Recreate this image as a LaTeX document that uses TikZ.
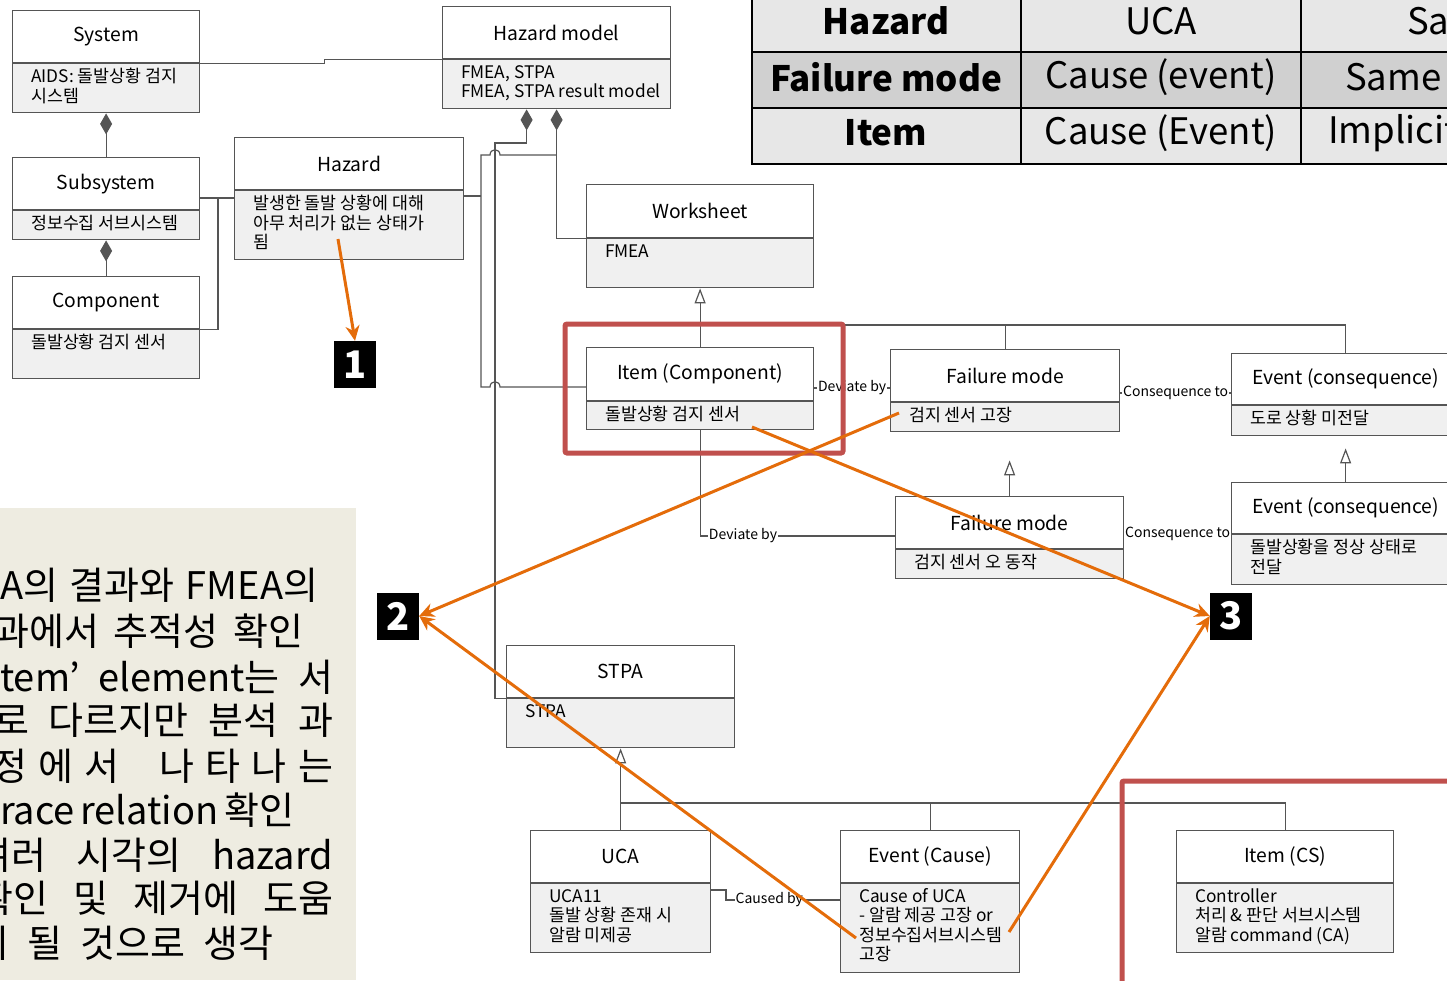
\documentclass[tikz,border=0pt]{standalone}
\usepackage{fontspec}
\setmainfont{Noto Sans CJK KR}
\usepackage{tikz}
\usetikzlibrary{arrows.meta, positioning, calc}

\definecolor{boxline}{HTML}{555555}
\definecolor{bodygray}{HTML}{F0F0F0}
\definecolor{panelbg}{HTML}{EEECE1}
\definecolor{hlorange}{HTML}{E46C0A}
\definecolor{markred}{HTML}{C0504D}
\definecolor{rowlight}{HTML}{E7E7E7}
\definecolor{rowdark}{HTML}{D0D0D0}

% class box: name, left, top, right, divider, bottom, title, body
\newcommand\umlclass[8]{%
  \node[umlhead, anchor=north west, minimum width=#4-#2, minimum height=#5-#3] (#1) at (#2,#3) {#7};
  \node[umlbody, anchor=north west, minimum width=#4-#2, minimum height=#6-#5] (#1b) at (#1.south west) {};
  \node[umltext, anchor=north west] (#1t) at ([shift={(19,5)}]#1b.north west) {\vphantom{돌}#8};
}

\begin{document}
\begin{tikzpicture}[x=1pt, y=-1pt,
  umlhead/.style={draw=boxline, fill=white, line width=1.2pt, inner sep=0pt, font=\fontsize{19.3}{23}\selectfont},
  umlbody/.style={draw=boxline, fill=bodygray, line width=1.2pt, inner sep=0pt},
  umltext/.style={align=left, inner sep=0pt, font=\fontsize{17.3}{19.5}\selectfont},
  conn/.style={draw=boxline, line width=1.2pt},
  diam/.tip={Diamond[length=21pt,width=12pt]},
  gen/.tip={Triangle[length=15pt,width=11pt,fill=white]},
  lbl/.style={fill=white, inner sep=1pt, font=\fontsize{14}{16}\selectfont},
  hl/.style={draw=hlorange, line width=3pt, -{Stealth[length=15pt,width=14pt]}},
  redbox/.style={draw=markred, line width=5pt, rounded corners=2pt},
  badge/.style={fill=black, text=white, minimum width=42, minimum height=47, inner sep=0pt, font=\fontsize{38}{38}\selectfont\bfseries},
  paneltext/.style={inner sep=0pt, font=\fontsize{38}{42}\selectfont},
  tbltext/.style={inner sep=0pt, font=\fontsize{36.5}{42}\selectfont},
  tblhead/.style={inner sep=0pt, font=\fontsize{35}{42}\selectfont\bfseries}]

  \useasboundingbox (0,0) rectangle (1447,980);
  \clip (0,0) rectangle (1447,980);

  % Left text panel
  \fill[panelbg] (0,508) rectangle (356,980);
  \foreach \yy/\xa/\ww/\txt [count=\i] in {
    585/0/318/{A의 결과와 FMEA의},
    631/-6/309/{과에서 추적성 확인},
    677/0/333/{tem’ element는 서},
    720/-6/339/{로 다르지만 분석 과},
    766/-8/341/{정\hfill 에\hfill 서\hspace{28pt}\hfill 나\hfill 타\hfill 나\hfill 는},
    810/0/294/{race relation 확인},
    855/-24/357/{여러 시각의 hazard},
    898/-22/355/{확인 및 제거에 도움},
    943/-26/299/{이 될 것으로 생각}}
    \node[paneltext, anchor=west] (pl\i) at (\xa,\yy) {\makebox[\ww pt][s]{\txt}};

  % Classes
  \umlclass{sys}{12}{10}{199}{62}{111}{System}{AIDS: 돌발상황 검지\\시스템}
  \umlclass{sub}{12}{157}{199}{209}{238}{Subsystem}{정보수집 서브시스템}
  \umlclass{comp}{12}{276}{199}{328}{377}{Component}{돌발상황 검지 센서}
  \umlclass{haz}{234}{137}{463}{189}{258}{Hazard}{발생한 돌발 상황에 대해\\아무 처리가 없는 상태가\\됨}
  \umlclass{hm}{442}{6}{670}{58}{107}{Hazard model}{FMEA, STPA\\FMEA, STPA result model}
  \umlclass{ws}{586}{184}{813}{237}{286}{Worksheet}{FMEA}
  \umlclass{itc}{586}{347}{813}{400}{428}{Item (Component)}{돌발상황 검지 센서}
  \umlclass{fm1}{890}{349}{1119}{401}{430}{Failure mode}{검지 센서 고장}
  \umlclass{fm2}{895}{496}{1123}{548}{577}{Failure mode}{검지 센서 오 동작}
  \umlclass{ev1}{1231}{353}{1459}{404}{434}{Event (consequence)}{도로 상황 미전달}
  \umlclass{ev2}{1231}{482}{1459}{533}{583}{Event (consequence)}{돌발상황을 정상 상태로\\전달}
  \umlclass{stpa}{506}{645}{734}{697}{746}{STPA}{STPA}
  \umlclass{uca}{530}{830}{710}{882}{951}{UCA}{UCA11\\돌발 상황 존재 시\\알람 미제공}
  \umlclass{evc}{840}{830}{1019}{882}{971}{Event (Cause)}{Cause of UCA\\- 알람 제공 고장 or\\정보수집서브시스템\\고장}
  \umlclass{itcs}{1176}{830}{1393}{882}{951}{Item (CS)}{Controller\\처리 \& 판단 서브시스템\\알람 command (CA)}

  % Junctions
  \coordinate (jSub) at (218,198);
  \coordinate (jD) at (495,143);
  \coordinate (jH) at (481,155);
  \coordinate (jW) at (700,325);
  \coordinate (jS) at (620,803);

  % System side
  \draw[conn] (sys.south east) -- ++(124,0) |- (hm.south west);
  \draw[conn, diam-] (sysb.south) -- (sub.north);
  \draw[conn, diam-] (subb.south) -- (comp.north);
  \draw[conn] (sub.east |- jSub) -- (hazb.west |- jSub);
  \draw[conn] (comp.south east) -| (jSub);

  % Hazard model compositions
  \draw[conn, diam-] (hmb.south) |- (ws.south west);
  \draw[conn, diam-] ([xshift=-30pt]hmb.south) |- (jD) |- (stpa.south west);
  \draw[conn] (hmb.south |- jH) -- (500,155) .. controls (500,148) and (490,148) .. (490,155) -- (jH)
    -- (481,387) -- (490,387) .. controls (490,380) and (500,380) .. (500,387) -- (itc.west |- 0,387);
  \draw[conn] (hazb.east |- 0,196) -- (jH |- 0,196);

  % FMEA side
  \draw[conn, gen-] (wsb.south) -- (itc.north);
  \draw[conn] (jW) -| (fm1.north);
  \draw[conn] (jW) -| (ev1.north);
  \draw[conn] (itc.east |- 0,388) -- node[lbl] (dv1) {Deviate by} (fm1.west |- 0,388);
  \draw[conn] (itcb.south) |- node[lbl, pos=0.61] (dv2) {Deviate by} (fm2.west |- 0,536);
  \draw[conn] (fm1.east |- 0,393) -- node[lbl] (cq1) {Consequence to} (ev1.west |- 0,393);
  \draw[conn] (fm2.east |- ev2b.north) -- node[lbl] (cq2) {Consequence to} (ev2b.north west);
  \draw[conn, gen-, shorten <=28pt] (fm2.north |- fm1b.south) -- (fm2.north);
  \draw[conn, gen-, shorten <=12pt] (ev1b.south) -- (ev2.north);

  % STPA side
  \draw[conn, gen-] (stpab.south) -- (uca.north);
  \draw[conn] (jS) -| (evc.north);
  \draw[conn] (jS) -| (itcs.north);
  \draw[conn] (ucab.east |- 0,890) -- (726,890) |- node[lbl, pos=0.69] (cb) {Caused by} (evcb.west |- 0,900);

  % Mapping table
  \fill[rowlight] (752,-4) rectangle (1460,52);
  \fill[rowdark] (752,52) rectangle (1460,108);
  \fill[rowlight] (752,108) rectangle (1460,164);
  \draw[line width=2.5pt] (752,-4) rectangle (1460,164);
  \draw[line width=2.5pt] (752,52) -- (1460,52) (752,108) -- (1460,108)
    (1021,-4) -- (1021,164) (1301,-4) -- (1301,164);
  \node[tblhead] (t11) at (886,21) {Hazard};
  \node[tblhead] (t21) at (886,77) {Failure mode};
  \node[tblhead] (t31) at (886,133) {Item};
  \node[tbltext] (t12) at (1161,21) {UCA};
  \node[tbltext] (t22) at (1161,77) {Cause (event)};
  \node[tbltext] (t32) at (1161,133) {Cause (Event)};
  \node[tbltext, anchor=west] (t13) at (1407,21) {Sa};
  \node[tbltext, anchor=west] (t23) at (1345,77) {Same};
  \node[tbltext, anchor=west] (t33) at (1328,133) {Implicit};

  % Highlight frames
  \draw[redbox] (565,324) rectangle (843,453);
  \draw[redbox] (1122,781) rectangle (1470,1000);

  % Numbered markers
  \node[badge] (b1) at (355,364.5) {1};
  \node[badge] (b2) at (398,616) {2};
  \node[badge] (b3) at (1231,616) {3};

  % Trace arrows
  \coordinate (o1) at (338,239);
  \coordinate (o2) at (899,413);
  \coordinate (o3) at (856,938);
  \coordinate (o4) at (752,427);
  \coordinate (o5) at (1009,932);
  \draw[hl] (o1) -- (b1.north);
  \draw[hl] (o2) -- (b2.east);
  \draw[hl] (o3) -- (b2.east);
  \draw[hl] (o4) -- (b3.west);
  \draw[hl] (o5) -- (b3.west);
\end{tikzpicture}
\end{document}
